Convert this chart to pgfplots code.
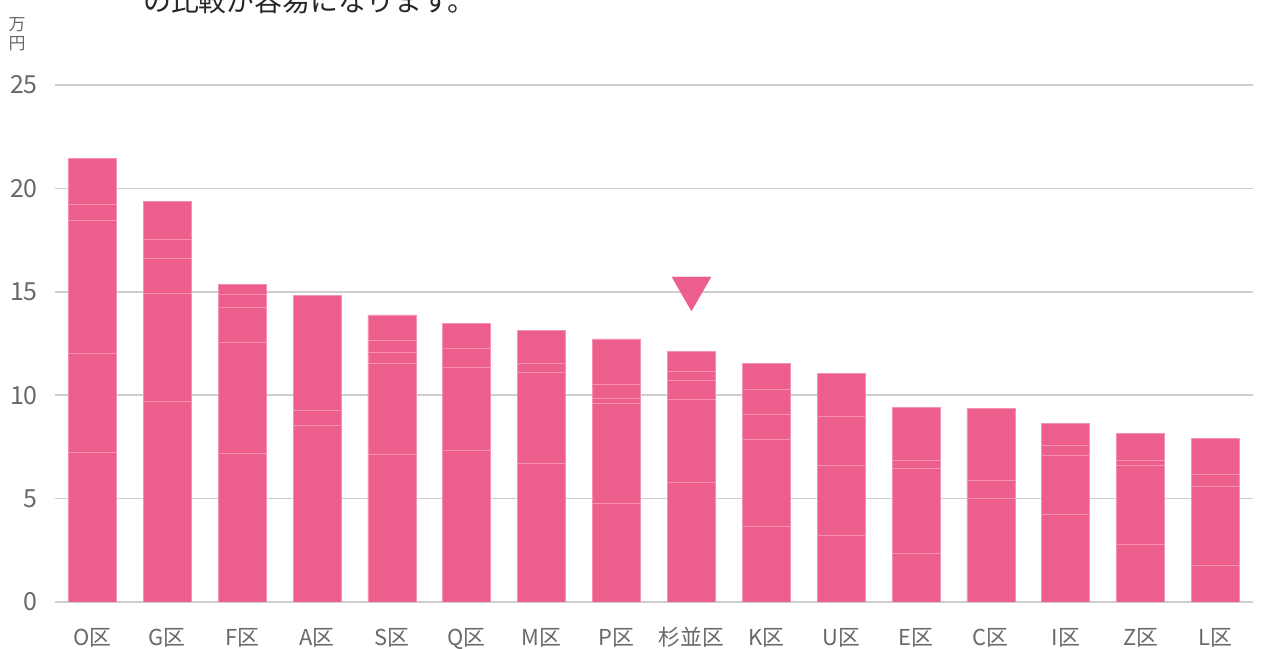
\documentclass[border=0pt]{standalone}
\usepackage{pgfplots}
\usepackage{pgfplotstable}
\pgfplotsset{compat=1.18}
\usepackage{fontspec}
\setmainfont{Noto Sans CJK JP}
\definecolor{barpink}{RGB}{236,94,140}
\definecolor{seppink}{RGB}{244,146,176}
\definecolor{gridgray}{RGB}{206,206,206}
\definecolor{ticktext}{RGB}{105,105,105}

\pgfplotstableread{
x s1 s2 s3 s4 s5
0 7.25 4.79 6.43 0.78 2.19
1 9.72 5.22 1.69 0.92 1.82
2 7.20 5.37 1.69 0.63 0.45
3 8.56 0.72 5.55 0 0
4 7.14 4.40 0.53 0.58 1.23
5 7.34 4.01 0.92 1.21 0
6 6.71 4.40 0.45 1.56 0
7 4.79 4.82 0.24 0.68 2.19
8 5.79 4.00 0.91 0.44 0.96
9 3.64 4.24 1.20 1.21 1.25
10 3.23 3.39 2.36 2.09 0
11 2.35 4.12 0.38 2.56 0
12 5.01 0.86 3.48 0 0
13 4.24 2.85 0.49 1.06 0
14 2.79 3.82 0.24 1.29 0
15 1.79 3.79 0.60 1.72 0
}\bardata

\begin{document}
\begin{tikzpicture}
\path[use as bounding box] (0bp,0bp) rectangle (1276bp,649bp);
\node[anchor=base west, font=\fontsize{28}{32}\selectfont, text=black!85, inner sep=0pt] at (143bp,637bp) {の比較が容易になります。};
\node[align=center, font=\fontsize{17}{19}\selectfont, text=ticktext, inner sep=0pt] at (17bp,615bp) {万\\円};
\begin{axis}[
  at={(55bp,47bp)}, anchor=south west,
  scale only axis, width=1198bp, height=517bp,
  xmin=-0.5, xmax=15.5, ymin=0, ymax=25,
  ybar stacked, bar width=48bp,
  xtick=data,
  xticklabels={O区,G区,F区,A区,S区,Q区,M区,P区,杉並区,K区,U区,E区,C区,I区,Z区,L区},
  ytick={0,5,10,15,20,25},
  ymajorgrids, grid style={gridgray, line width=1.5bp},
  axis line style={draw=none},
  major tick length=0pt,
  /pgf/number format/assume math mode=true,
  yticklabel style={anchor=east, inner sep=0pt, xshift=-17bp, font=\fontsize{25}{28}\selectfont, text=ticktext},
  xticklabel style={anchor=base, inner sep=0pt, yshift=-43bp, font=\fontsize{22}{26}\selectfont, text=ticktext},
]
\addplot[fill=barpink, draw=seppink, line width=0.7bp] table[x=x,y=s1]{\bardata};
\addplot[fill=barpink, draw=seppink, line width=0.7bp] table[x=x,y=s2]{\bardata};
\addplot[fill=barpink, draw=seppink, line width=0.7bp] table[x=x,y=s3]{\bardata};
\addplot[fill=barpink, draw=seppink, line width=0.7bp] table[x=x,y=s4]{\bardata};
\addplot[fill=barpink, draw=seppink, line width=0.7bp] table[x=x,y=s5]{\bardata};
\end{axis}
\begin{axis}[
  at={(55bp,47bp)}, anchor=south west,
  scale only axis, width=1198bp, height=517bp,
  xmin=-0.5, xmax=15.5, ymin=0, ymax=25,
  hide axis, clip=false,
]
\addplot[barpink, only marks, mark=triangle*, mark size=22.7bp, mark options={rotate=180, fill=barpink, draw=barpink, line width=0.1bp}] coordinates {(8,15.17)};
\end{axis}
\end{tikzpicture}
\end{document}
